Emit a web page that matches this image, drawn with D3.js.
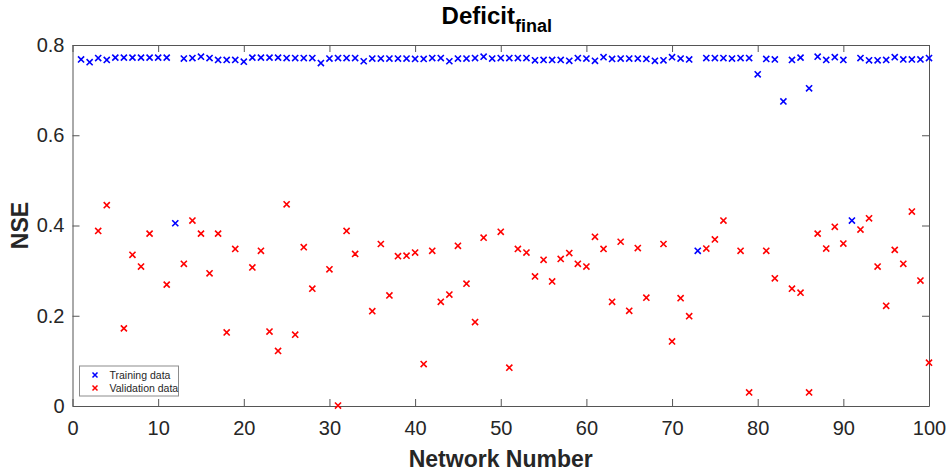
<!DOCTYPE html>
<html>
<head>
<meta charset="utf-8">
<script src="https://cdn.jsdelivr.net/npm/d3@7"></script>
<style>
  html, body { margin: 0; padding: 0; background: #fff; }
  svg { display: block; font-family: "Liberation Sans", Arial, Helvetica, sans-serif; }
</style>
</head>
<body>
<svg id="chart" width="949" height="472"></svg>
<script>
// ---- data ----
const networks = d3.range(1, 101);
const trainingNSE = [
  0.768, 0.762, 0.771, 0.767, 0.772, 0.772, 0.772, 0.772, 0.772, 0.772,
  0.772, 0.405, 0.770, 0.771, 0.774, 0.771, 0.767, 0.767, 0.767, 0.763,
  0.772, 0.772, 0.772, 0.772, 0.771, 0.771, 0.771, 0.771, 0.760, 0.770,
  0.771, 0.771, 0.771, 0.764, 0.770, 0.770, 0.770, 0.770, 0.770, 0.769,
  0.769, 0.771, 0.771, 0.764, 0.770, 0.770, 0.771, 0.774, 0.770, 0.771,
  0.771, 0.771, 0.771, 0.766, 0.767, 0.767, 0.767, 0.765, 0.771, 0.770,
  0.765, 0.773, 0.769, 0.770, 0.770, 0.770, 0.769, 0.765, 0.766, 0.773,
  0.770, 0.768, 0.344, 0.771, 0.771, 0.771, 0.770, 0.771, 0.771, 0.735,
  0.769, 0.768, 0.675, 0.767, 0.772, 0.704, 0.774, 0.767, 0.773, 0.767,
  0.411, 0.771, 0.766, 0.766, 0.767, 0.773, 0.768, 0.768, 0.768, 0.771
];
// null = value below the visible axis range (not shown)
const validationNSE = [
  null, null, 0.388, 0.445, null, 0.172, 0.335, 0.309, 0.382, null,
  0.269, null, 0.315, 0.411, 0.382, 0.294, 0.382, 0.163, 0.348, null,
  0.307, 0.344, 0.165, 0.122, 0.447, 0.158, 0.352, 0.260, null, 0.303,
  0.001, 0.388, 0.337, null, 0.210, 0.359, 0.245, 0.332, 0.333, 0.340,
  0.093, 0.344, 0.231, 0.247, 0.355, 0.271, 0.186, 0.373, null, 0.386,
  0.085, 0.348, 0.340, 0.287, 0.324, 0.276, 0.326, 0.339, 0.315, 0.309,
  0.375, 0.348, 0.231, 0.364, 0.211, 0.350, 0.240, null, 0.359, 0.143,
  0.239, 0.199, null, 0.349, 0.369, 0.411, null, 0.344, 0.030, null,
  0.344, 0.283, null, 0.260, 0.251, 0.030, 0.382, 0.349, 0.397, 0.360,
  null, 0.391, 0.416, 0.309, 0.222, 0.346, 0.315, 0.431, 0.278, 0.096
];
const xTicks = [0, 10, 20, 30, 40, 50, 60, 70, 80, 90, 100];
const yTicks = [0, 0.2, 0.4, 0.6, 0.8];
const seriesNames = ["Training data", "Validation data"];
const seriesColors = ["#0000ff", "#ff0000"];

// ---- layout ----
const svg = d3.select("#chart");
const mLeft = 72.5, mRight = 929, mTop = 45, mBottom = 406;
const x = d3.scaleLinear().domain([0, 100]).range([mLeft, mRight]);
const y = d3.scaleLinear().domain([0, 0.8]).range([mBottom, mTop]);
const axisColor = "#555";
const textColor = "#262626";
const tickLen = 7;

function styleAxis(g, showLabels) {
  g.select(".domain").attr("stroke", axisColor).attr("stroke-width", 1);
  g.selectAll(".tick line").attr("stroke", axisColor).attr("stroke-width", 1);
  g.selectAll(".tick text").attr("fill", textColor).attr("font-size", 20)
    .attr("font-family", '"Liberation Sans", Arial, sans-serif');
  if (!showLabels) g.selectAll(".tick text").remove();
}
svg.append("g").attr("transform", `translate(0,${mBottom})`)
  .call(d3.axisBottom(x).tickValues(xTicks).tickSize(-tickLen).tickSizeOuter(0).tickPadding(15).tickFormat(d3.format("d")))
  .call(g => styleAxis(g, true));
svg.append("g").attr("transform", `translate(0,${mTop})`)
  .call(d3.axisTop(x).tickValues(xTicks).tickSize(-tickLen).tickSizeOuter(0))
  .call(g => styleAxis(g, false));
svg.append("g").attr("transform", `translate(${mLeft},0)`)
  .call(d3.axisLeft(y).tickValues(yTicks).tickSize(-tickLen).tickSizeOuter(0).tickPadding(8).tickFormat(d => d === 0 ? "0" : d3.format(".1f")(d)))
  .call(g => styleAxis(g, true));
svg.append("g").attr("transform", `translate(${mRight},0)`)
  .call(d3.axisRight(y).tickValues(yTicks).tickSize(-tickLen).tickSizeOuter(0))
  .call(g => styleAxis(g, false));

// markers
const marker = d3.symbol().type(d3.symbolTimes).size(26);
const series = [trainingNSE, validationNSE];
series.forEach((vals, si) => {
  svg.append("g")
    .selectAll("path")
    .data(networks.map((n, i) => ({ n, v: vals[i] })).filter(d => d.v !== null))
    .join("path")
    .attr("d", marker)
    .attr("transform", d => `translate(${x(d.n)},${y(d.v)})`)
    .attr("fill", "none")
    .attr("stroke", seriesColors[si])
    .attr("stroke-width", 1.6);
});

// title
const title = svg.append("text")
  .attr("x", (mLeft + mRight) / 2 - 4).attr("y", 24)
  .attr("text-anchor", "middle")
  .attr("font-weight", "bold").attr("font-size", 24).attr("fill", "#000");
title.append("tspan").text("Deficit");
title.append("tspan").attr("dy", 8).attr("font-size", 18).text("final");

// axis labels
svg.append("text")
  .attr("x", (mLeft + mRight) / 2).attr("y", 467)
  .attr("text-anchor", "middle")
  .attr("font-weight", "bold").attr("font-size", 23).attr("fill", textColor)
  .text("Network Number");
svg.append("text")
  .attr("transform", `translate(28,${(mTop + mBottom) / 2}) rotate(-90)`)
  .attr("text-anchor", "middle")
  .attr("font-weight", "bold").attr("font-size", 23).attr("fill", textColor)
  .text("NSE");

// legend
const lg = svg.append("g").attr("transform", "translate(79.5,366)");
lg.append("rect").attr("width", 99).attr("height", 30)
  .attr("fill", "#fff").attr("stroke", "#8c8c8c").attr("stroke-width", 1);
seriesNames.forEach((name, i) => {
  const row = lg.append("g").attr("transform", `translate(0,${9 + i * 13})`);
  row.append("path").attr("d", d3.symbol().type(d3.symbolTimes).size(18))
    .attr("transform", "translate(15.5,0)")
    .attr("fill", "none").attr("stroke", seriesColors[i]).attr("stroke-width", 1.5);
  row.append("text").attr("x", 30).attr("y", 3.8)
    .attr("font-size", 10.5).attr("fill", textColor).text(name);
});
</script>
</body>
</html>
